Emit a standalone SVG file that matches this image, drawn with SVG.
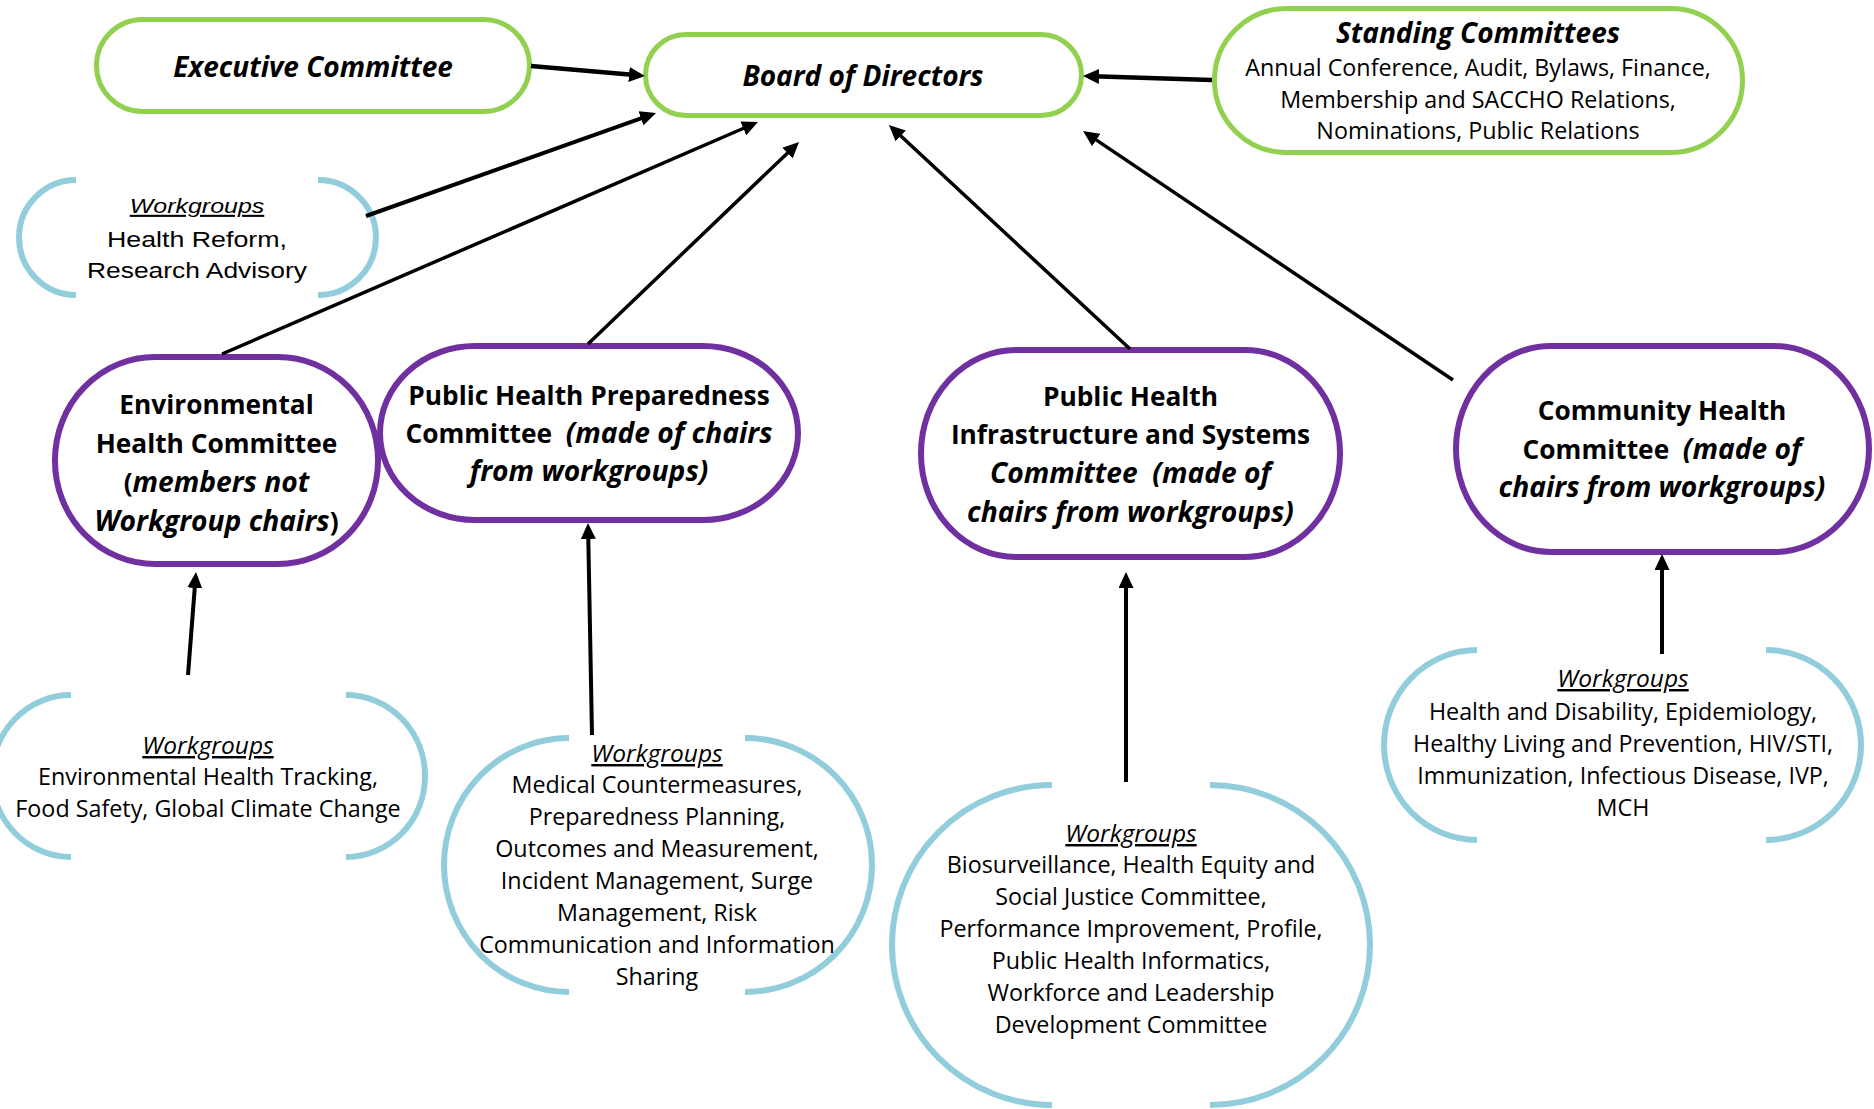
<svg xmlns="http://www.w3.org/2000/svg" width="1874" height="1109" viewBox="0 0 1874 1109">
  <defs>
    <marker id="arrow" markerUnits="userSpaceOnUse" viewBox="0 0 16 15" markerWidth="16" markerHeight="15" refX="6" refY="7.5" orient="auto">
      <path d="M0,0 L16,7.5 L0,15 z" fill="#000"/>
    </marker>
  </defs>
  <style>
    .green{fill:#fff;stroke:#92D050;stroke-width:5}
    .purple{fill:#fff;stroke:#7030A0;stroke-width:6}
    .bracket{fill:none;stroke:#92CDDC;stroke-width:6}
    .t{font-family:"Open Sans","Liberation Sans",sans-serif;text-anchor:middle;fill:#000}
    .title{font-size:28px;font-weight:bold;font-style:italic}
    .cb{font-size:26.3px;font-weight:bold}
    .bi{font-size:28.2px;font-style:italic}
    .wg{font-size:23.3px}
    .wgi{font-size:24.5px;font-style:italic;text-decoration:underline}
    .arial{font-family:"Liberation Sans",Arial,sans-serif;text-anchor:middle;fill:#000}
    #connectors line{stroke:#000;marker-end:url(#arrow)}
  </style>
  <rect width="1874" height="1109" fill="#fff"/>

  <!-- governing bodies -->
  <g id="executive-committee">
    <rect class="green" x="96.5" y="19.5" width="433" height="92" rx="46"/>
    <text class="t title" x="313" y="77">Executive Committee</text>
  </g>
  <g id="board-of-directors">
    <rect class="green" x="645.5" y="34.5" width="436" height="81" rx="40.5"/>
    <text class="t title" x="863" y="86">Board of Directors</text>
  </g>
  <g id="standing-committees">
    <rect class="green" x="1214.5" y="8.5" width="528" height="144" rx="72"/>
    <text class="t title" x="1478" y="43">Standing Committees</text>
    <text class="t wg" x="1478" y="76">Annual Conference, Audit, Bylaws, Finance,</text>
    <text class="t wg" x="1478" y="108">Membership and SACCHO Relations,</text>
    <text class="t wg" x="1478" y="139">Nominations, Public Relations</text>
  </g>

  <!-- board-level workgroups -->
  <g id="wg-health-reform">
    <path class="bracket" d="M76,180 A57,57.5 0 0 0 76,295"/>
    <path class="bracket" d="M318,180 A58,57.5 0 0 1 318,295"/>
    <g transform="matrix(1.2 0 0 1 -39.4 0)">
      <text class="arial" x="197" y="213" font-size="20.8" font-style="italic" text-decoration="underline">Workgroups</text>
      <text class="arial" x="197" y="247" font-size="22.3">Health Reform,</text>
      <text class="arial" x="197" y="278" font-size="22">Research Advisory</text>
    </g>
  </g>

  <!-- program committees -->
  <g id="environmental-health-committee">
    <rect class="purple" x="55" y="357" width="323" height="207" rx="100" ry="103"/>
    <text class="t cb" x="216.5" y="414">Environmental</text>
    <text class="t cb" x="216.5" y="453">Health Committee</text>
    <text class="t cb" x="216.5" y="492">(<tspan class="bi">members not</tspan></text>
    <text class="t cb" x="216.5" y="531"><tspan class="bi">Workgroup chairs</tspan>)</text>
  </g>
  <g id="preparedness-committee">
    <rect class="purple" x="380" y="346" width="418" height="174" rx="95" ry="87"/>
    <text class="t cb" x="589" y="405">Public Health Preparedness</text>
    <text class="t cb" x="589" y="443">Committee&#160; <tspan class="bi">(made of chairs</tspan></text>
    <text class="t cb bi" x="589" y="481">from workgroups)</text>
  </g>
  <g id="infrastructure-committee">
    <rect class="purple" x="921" y="350" width="419" height="207" rx="95" ry="103"/>
    <text class="t cb" x="1130.5" y="406">Public Health</text>
    <text class="t cb" x="1130.5" y="444">Infrastructure and Systems</text>
    <text class="t cb bi" x="1130.5" y="483">Committee&#160; (made of</text>
    <text class="t cb bi" x="1130.5" y="522">chairs from workgroups)</text>
  </g>
  <g id="community-health-committee">
    <rect class="purple" x="1456" y="346" width="413" height="206" rx="95" ry="103"/>
    <text class="t cb" x="1662" y="420">Community Health</text>
    <text class="t cb" x="1662" y="459">Committee&#160; <tspan class="bi">(made of</tspan></text>
    <text class="t cb bi" x="1662" y="497">chairs from workgroups)</text>
  </g>

  <!-- committee workgroups -->
  <g id="wg-environmental">
    <path class="bracket" d="M71,695 A79,81 0 0 0 71,857"/>
    <path class="bracket" d="M346,695 A79,81 0 0 1 346,857"/>
    <text class="t wgi" x="208" y="754">Workgroups</text>
    <text class="t wg" x="208" y="785">Environmental Health Tracking,</text>
    <text class="t wg" x="208" y="817">Food Safety, Global Climate Change</text>
  </g>
  <g id="wg-preparedness">
    <path class="bracket" d="M569,738 A125,127 0 0 0 569,992"/>
    <path class="bracket" d="M745,738 A127,127 0 0 1 745,992"/>
    <text class="t wgi" x="657" y="762">Workgroups</text>
    <text class="t wg" x="657" y="793">Medical Countermeasures,</text>
    <text class="t wg" x="657" y="825">Preparedness Planning,</text>
    <text class="t wg" x="657" y="857">Outcomes and Measurement,</text>
    <text class="t wg" x="657" y="889">Incident Management, Surge</text>
    <text class="t wg" x="657" y="921">Management, Risk</text>
    <text class="t wg" x="657" y="953">Communication and Information</text>
    <text class="t wg" x="657" y="985">Sharing</text>
  </g>
  <g id="wg-infrastructure">
    <path class="bracket" d="M1052,785 A160,160 0 0 0 1052,1105"/>
    <path class="bracket" d="M1210,785 A160,160 0 0 1 1210,1105"/>
    <text class="t wgi" x="1131" y="842">Workgroups</text>
    <text class="t wg" x="1131" y="873">Biosurveillance, Health Equity and</text>
    <text class="t wg" x="1131" y="905">Social Justice Committee,</text>
    <text class="t wg" x="1131" y="937">Performance Improvement, Profile,</text>
    <text class="t wg" x="1131" y="969">Public Health Informatics,</text>
    <text class="t wg" x="1131" y="1001">Workforce and Leadership</text>
    <text class="t wg" x="1131" y="1033">Development Committee</text>
  </g>
  <g id="wg-community">
    <path class="bracket" d="M1477,650 A93,95 0 0 0 1477,840"/>
    <path class="bracket" d="M1766,650 A95,95 0 0 1 1766,840"/>
    <text class="t wgi" x="1623" y="687">Workgroups</text>
    <text class="t wg" x="1623" y="720">Health and Disability, Epidemiology,</text>
    <text class="t wg" x="1623" y="752">Healthy Living and Prevention, HIV/STI,</text>
    <text class="t wg" x="1623" y="784">Immunization, Infectious Disease, IVP,</text>
    <text class="t wg" x="1623" y="816">MCH</text>
  </g>

  <!-- reporting lines -->
  <g id="connectors">
    <line x1="531" y1="66" x2="635" y2="75.1" stroke-width="4.5"/>
    <line x1="366" y1="216" x2="646.6" y2="116.3" stroke-width="4"/>
    <line x1="222" y1="354" x2="748.8" y2="126" stroke-width="3.5"/>
    <line x1="588" y1="344" x2="791.8" y2="148.9" stroke-width="3.5"/>
    <line x1="1130" y1="349" x2="896.3" y2="131.8" stroke-width="3.5"/>
    <line x1="1453" y1="380" x2="1091.3" y2="136.6" stroke-width="3.5"/>
    <line x1="1212" y1="80" x2="1093" y2="76.3" stroke-width="4.5"/>
    <line x1="188" y1="675" x2="195.2" y2="582" stroke-width="4"/>
    <line x1="592" y1="735" x2="588.2" y2="533" stroke-width="4"/>
    <line x1="1126" y1="782" x2="1126" y2="582" stroke-width="4"/>
    <line x1="1662" y1="654" x2="1662" y2="564" stroke-width="4"/>
  </g>
</svg>
